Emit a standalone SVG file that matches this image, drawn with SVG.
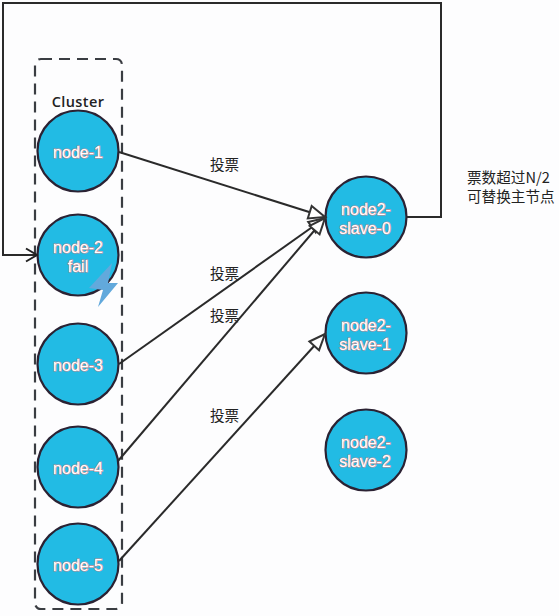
<svg xmlns="http://www.w3.org/2000/svg" width="559" height="616" viewBox="0 0 559 616">
<defs>
<marker id="tri" markerUnits="userSpaceOnUse" markerWidth="20" markerHeight="16" refX="17" refY="7" orient="auto" overflow="visible"><path d="M1 0.5 L17 7 L1 13.5 Z" fill="#fff" stroke="#333" stroke-width="2"/></marker>
<marker id="open" markerUnits="userSpaceOnUse" markerWidth="16" markerHeight="16" refX="12" refY="7" orient="auto" overflow="visible"><path d="M1 0.5 L12 7 L1 13.5" fill="none" stroke="#222" stroke-width="2"/></marker>
</defs>
<style>
.n{fill:#22bbe4;stroke:#2b2233;stroke-width:2.2}
.t{font:16px "Liberation Sans",Arial,sans-serif;fill:#fff;text-anchor:middle;paint-order:stroke;stroke:#c98a90;stroke-width:1.2px}
.l{font:14.6px "Noto Sans CJK SC",sans-serif;fill:#222}
.c{fill:none;stroke:#2a2a2a;stroke-width:2}
</style>
<rect width="559" height="616" fill="#fdfdfe"/>
<rect id="cluster" x="35" y="59" width="87" height="550" rx="6" fill="none" stroke="#3a3d42" stroke-width="2.2" stroke-dasharray="11 7"/>
<text x="78" y="107" text-anchor="middle" style="font:600 14.5px 'Open Sans',sans-serif;fill:#222;letter-spacing:.4px">Cluster</text>
<g id="node-1"><circle class="n" cx="78" cy="151" r="40.5"/><text class="t" x="78" y="158">node-1</text></g>
<g id="node-2"><circle class="n" cx="78" cy="255" r="40.5"/><text class="t" x="78" y="253">node-2</text><text class="t" x="78" y="272">fail</text>
<path d="M112 263 L89 288 L103 290 L98 307 L118 283 L108 283 Z" fill="#62a9dc"/></g>
<g id="node-3"><circle class="n" cx="78" cy="364" r="40.5"/><text class="t" x="78" y="371">node-3</text></g>
<g id="node-4"><circle class="n" cx="78" cy="467" r="40.5"/><text class="t" x="78" y="474">node-4</text></g>
<g id="node-5"><circle class="n" cx="78" cy="564" r="40.5"/><text class="t" x="78" y="571">node-5</text></g>
<g id="node2-slave-0"><circle class="n" cx="366" cy="217" r="40.5"/><text class="t" x="366" y="215">node2-</text><text class="t" x="365" y="234">slave-0</text></g>
<g id="node2-slave-1"><circle class="n" cx="366" cy="333" r="40.5"/><text class="t" x="366" y="331">node2-</text><text class="t" x="365" y="350">slave-1</text></g>
<g id="node2-slave-2"><circle class="n" cx="366" cy="450" r="40.5"/><text class="t" x="366" y="448">node2-</text><text class="t" x="365" y="467">slave-2</text></g>
<g id="connectors">
<path class="c" d="M119 152 L325 217" marker-end="url(#tri)"/>
<path class="c" d="M119 364 L325 218" marker-end="url(#tri)"/>
<path class="c" d="M118 461 L325 218" marker-end="url(#tri)"/>
<path class="c" d="M119 561 L325 334" marker-end="url(#tri)"/>
<path class="c" d="M407 217 H441 V3 H3 V255 H37" marker-end="url(#open)"/>
</g>
<g id="labels">
<text class="l" x="210" y="170">投票</text>
<text class="l" x="210" y="279">投票</text>
<text class="l" x="210" y="321">投票</text>
<text class="l" x="210" y="421">投票</text>
<text class="l" x="467" y="183">票数超过N/2</text>
<text class="l" x="467" y="202">可替换主节点</text>
</g>
</svg>
